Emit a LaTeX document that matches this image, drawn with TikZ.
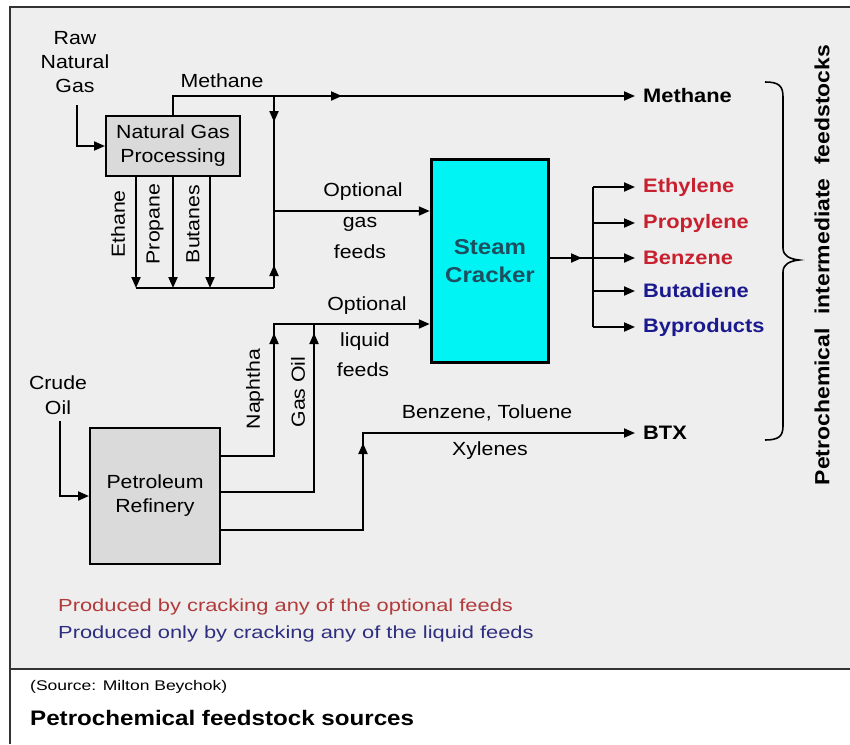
\documentclass[tikz,border=0pt]{standalone}
\usepackage{fontspec}
\setmainfont[FakeStretch=1.12]{Liberation Sans}
\newfontfamily\widefont[FakeStretch=1.25]{Liberation Sans}
\newfontfamily\titlefont[FakeStretch=1.15]{Liberation Sans}
\usetikzlibrary{arrows.meta}
\definecolor{bggray}{HTML}{EEEEEE}
\definecolor{boxgray}{HTML}{DADADA}
\definecolor{cyanbox}{HTML}{00F4F4}
\definecolor{steamtext}{HTML}{1C4F60}
\definecolor{prodred}{HTML}{C8202E}
\definecolor{prodblue}{HTML}{1A1A8E}
\definecolor{legred}{HTML}{B23A3A}
\definecolor{legblue}{HTML}{2E2E80}
\definecolor{framec}{HTML}{333333}
\tikzset{
  conn/.style={line width=2pt, draw=black},
  arr/.style={conn, -{Triangle[length=11pt,width=9pt]}},
  lbl/.style={font=\fontsize{19}{24}\selectfont, inner sep=0pt, align=center},
  vlbl/.style={lbl, rotate=90},
  prod/.style={font=\bfseries\fontsize{19.5}{24}\selectfont, inner sep=0pt, anchor=west},
  procbox/.style={draw=black, line width=2pt, fill=boxgray, font=\fontsize{19}{24}\selectfont, align=center, inner sep=0pt},
}
\begin{document}
\begin{tikzpicture}[x=1pt,y=-1pt]
\useasboundingbox (0,0) rectangle (850,744);
\fill[white] (0,0) rectangle (850,744);
\fill[bggray] (10,7) rectangle (850,669);
\draw[framec, line width=2pt] (850,7) -- (10,7) -- (10,744);
\draw[framec, line width=2.5pt] (10,669) -- (850,669);

% nodes
\node[procbox, minimum width=134pt, minimum height=60pt] (ngp) at (173,146) {Natural Gas\\Processing};
\node[draw=black, line width=3.5pt, fill=cyanbox, minimum width=117pt, minimum height=203pt, inner sep=0pt,
      font=\bfseries\fontsize{21.5}{28}\selectfont, text=steamtext, align=center] (steam) at (490,261) {Steam\\Cracker};
\node[procbox, minimum width=130pt, minimum height=136pt] (ref) at (155,496) {Petroleum\\Refinery};

\node[lbl] (raw) at (75,62) {Raw\\Natural\\Gas};
\node[lbl, font=\fontsize{19}{25}\selectfont] (crude) at (58,395) {Crude\\Oil};

\node[prod] (methane) at (643,96) {Methane};
\node[prod, text=prodred] (ethylene) at (643,187) {Ethylene};
\node[prod, text=prodred] (propylene) at (643,223) {Propylene};
\node[prod, text=prodred] (benzene) at (643,258) {Benzene};
\node[prod, text=prodblue] (butadiene) at (643,291) {Butadiene};
\node[prod, text=prodblue] (byproducts) at (643,327) {Byproducts};
\node[prod] (btx) at (643,433) {BTX};

% labels
\node[lbl] (lmeth) at (222,81) {Methane};
\node[vlbl] (lethane) at (118,224) {Ethane};
\node[vlbl] (lpropane) at (155,224) {Propane};
\node[vlbl] (lbutanes) at (193,224) {Butanes};
\node[lbl] (lopt1) at (363,192) {Optional};
\node[lbl] (lgas) at (360,224) {gas};
\node[lbl] (lfeeds1) at (360,252) {feeds};
\node[lbl] (lopt2) at (367,306) {Optional};
\node[lbl] (lliquid) at (365,342) {liquid};
\node[lbl] (lfeeds2) at (363,370) {feeds};
\node[vlbl] (lnaphtha) at (255,389) {Naphtha};
\node[vlbl] (lgasoil) at (298,392) {Gas Oil};
\node[lbl] (lbtx1) at (487,413) {Benzene, Toluene};
\node[lbl] (lbtx2) at (490,451) {Xylenes};
\node[font=\bfseries\fontsize{20.5}{24}\selectfont, rotate=90, inner sep=0pt] (side) at (822,265)
  {Petrochemical\hspace{7pt} intermediate\hspace{7pt} feedstocks};

\node[anchor=west, inner sep=0pt, text=legred, font=\widefont\fontsize{17.5}{20}\selectfont] (leg1) at (58,607) {Produced by cracking any of the optional feeds};
\node[anchor=west, inner sep=0pt, text=legblue, font=\widefont\fontsize{17.5}{20}\selectfont] (leg2) at (58,634) {Produced only by cracking any of the liquid feeds};
\node[anchor=west, inner sep=0pt, font=\widefont\fontsize{14}{16}\selectfont] (src) at (30,687) {(Source: Milton Beychok)};
\node[anchor=west, inner sep=0pt, font=\titlefont\bfseries\fontsize{21}{24}\selectfont] (title) at (30,718) {Petrochemical feedstock sources};

% coordinates
\coordinate (rawout) at (77,105);
\coordinate (crudeout) at (60,421);
\coordinate (j1) at (274,96);
\coordinate (ma) at (342,96);
\coordinate (jd) at (274,122);
\coordinate (jg) at (274,211);
\coordinate (ju) at (274,265);
\coordinate (jb) at (274,288);
\coordinate (e1) at (136,288);
\coordinate (e2) at (173,288);
\coordinate (e3) at (210,288);
\coordinate (nb) at (274,456);
\coordinate (na) at (274,333);
\coordinate (nt) at (274,324);
\coordinate (gb) at (314,492);
\coordinate (ga) at (314,333);
\coordinate (gt) at (314,324);
\coordinate (bb) at (363,530);
\coordinate (ba) at (363,443);
\coordinate (so) at (550,258);
\coordinate (sa) at (582,258);
\coordinate (sj) at (593,258);
\coordinate (sjt) at (593,187);
\coordinate (sjb) at (593,327);

% connectors
\draw[arr] (rawout) |- (ngp.west);
\draw[arr] (ngp.north) |- ([xshift=-8pt]methane.west);
\draw[arr] (j1) -- (ma);
\draw[conn] (j1) -- (jb);
\draw[arr] (j1) -- (jd);
\draw[arr] (jb) -- (ju);
\draw[arr] (jg) -- (steam.west |- jg);
\draw[conn] (e1) -- (jb);
\draw[arr] (ngp.south -| e1) -- (e1);
\draw[arr] (ngp.south -| e2) -- (e2);
\draw[arr] (ngp.south -| e3) -- (e3);

\draw[arr] (ref.east |- nb) -- (nb) -- (nt) -- (steam.west |- nt);
\draw[arr] (nb) -- (na);
\draw[conn] (ref.east |- gb) -- (gb) -- (gt);
\draw[arr] (gb) -- (ga);
\draw[arr] (ref.east |- bb) -- (bb) |- ([xshift=-8pt]btx.west);
\draw[arr] (bb) -- (ba);
\draw[arr] (crudeout) |- (ref.west);

\draw[conn] (steam.east |- so) -- (sj);
\draw[arr] (steam.east |- so) -- (sa);
\draw[conn] (sjt) -- (sjb);
\draw[arr] (sjt) -- ([xshift=-8pt]ethylene.west);
\draw[arr] (sj |- propylene.west) -- ([xshift=-8pt]propylene.west);
\draw[arr] (sj) -- ([xshift=-8pt]benzene.west);
\draw[arr] (sj |- butadiene.west) -- ([xshift=-8pt]butadiene.west);
\draw[arr] (sjb) -- ([xshift=-8pt]byproducts.west);

% brace
\draw[line width=1.6pt] (765,82) .. controls (779,82) and (783,86) .. (783,97) -- (783,248)
  .. controls (783,256) and (790,259) .. (799,260) .. controls (790,261) and (783,264) .. (783,272)
  -- (783,426) .. controls (783,436) and (779,440) .. (765,440);
\end{tikzpicture}
\end{document}
